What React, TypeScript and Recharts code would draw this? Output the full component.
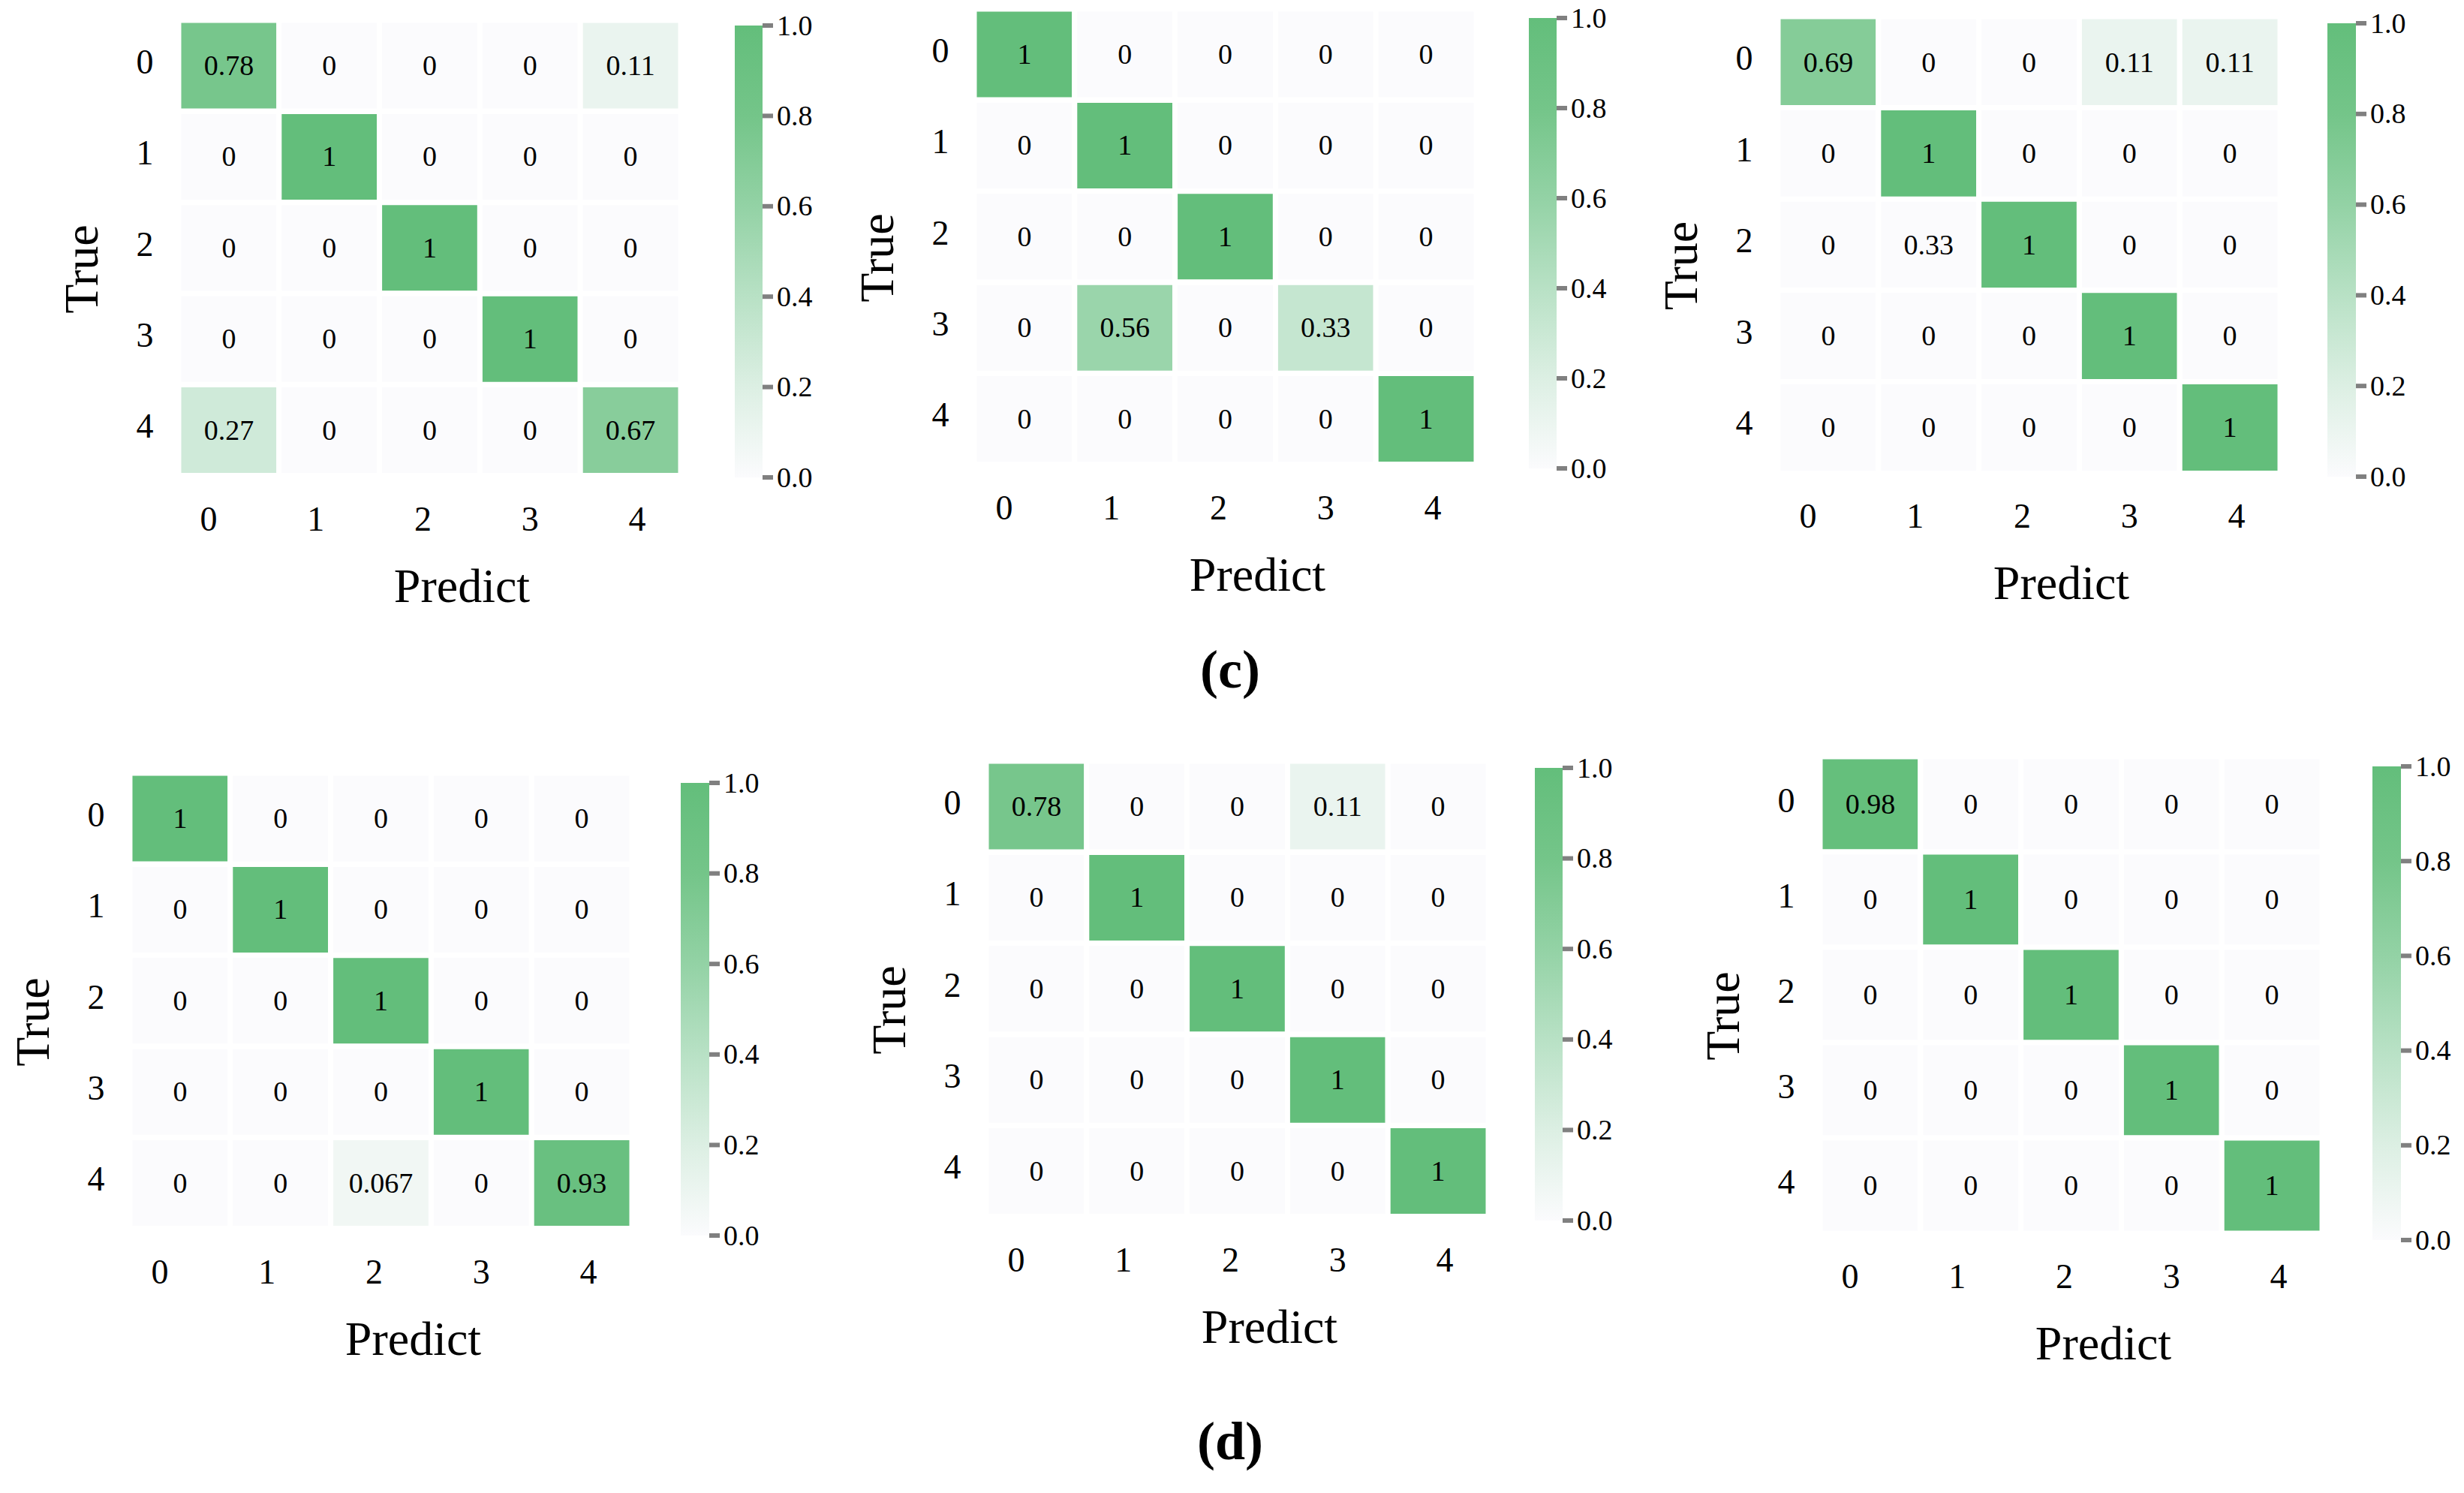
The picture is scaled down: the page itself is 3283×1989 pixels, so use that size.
import React from 'react';
import { BarChart, Bar, XAxis, YAxis, Cell, LabelList } from 'recharts';

const FONT = '"Liberation Serif", "Times New Roman", serif';

// Category labels
const rowLabels = ['0', '1', '2', '3', '4'];
const colLabels = ['0', '1', '2', '3', '4'];
const colorbarTicks = [0, 0.2, 0.4, 0.6, 0.8, 1.0];

// Colormap stops (value, colour)
const cmapValues = [0, 0.2, 0.4, 0.6, 0.8, 1.0];
const cmapColors = ['#FBFBFD', '#DCEFE3', '#B8E1C5', '#93D2A5', '#74C589', '#63BE7B'];

// (c) row
const matrixC1 = [
  [0.78, 0, 0, 0, 0.11],
  [0, 1, 0, 0, 0],
  [0, 0, 1, 0, 0],
  [0, 0, 0, 1, 0],
  [0.27, 0, 0, 0, 0.67],
];
const matrixC2 = [
  [1, 0, 0, 0, 0],
  [0, 1, 0, 0, 0],
  [0, 0, 1, 0, 0],
  [0, 0.56, 0, 0.33, 0],
  [0, 0, 0, 0, 1],
];
const matrixC3 = [
  [0.69, 0, 0, 0.11, 0.11],
  [0, 1, 0, 0, 0],
  [0, 0.33, 1, 0, 0],
  [0, 0, 0, 1, 0],
  [0, 0, 0, 0, 1],
];
// colour intensities of (c)-3 as drawn (the 0.33 cell is drawn blank)
const shadeC3 = [
  [0.69, 0, 0, 0.11, 0.11],
  [0, 1, 0, 0, 0],
  [0, 0, 1, 0, 0],
  [0, 0, 0, 1, 0],
  [0, 0, 0, 0, 1],
];
// (d) row
const matrixD1 = [
  [1, 0, 0, 0, 0],
  [0, 1, 0, 0, 0],
  [0, 0, 1, 0, 0],
  [0, 0, 0, 1, 0],
  [0, 0, 0.067, 0, 0.93],
];
const matrixD2 = [
  [0.78, 0, 0, 0.11, 0],
  [0, 1, 0, 0, 0],
  [0, 0, 1, 0, 0],
  [0, 0, 0, 1, 0],
  [0, 0, 0, 0, 1],
];
const matrixD3 = [
  [0.98, 0, 0, 0, 0],
  [0, 1, 0, 0, 0],
  [0, 0, 1, 0, 0],
  [0, 0, 0, 1, 0],
  [0, 0, 0, 0, 1],
];

const panelLabels = ['(c)', '(d)'];

function hexToRgb(h: string) {
  const n = parseInt(h.slice(1), 16);
  return [(n >> 16) & 255, (n >> 8) & 255, n & 255];
}
function cmap(v: number) {
  const t = Math.max(0, Math.min(1, v));
  for (let i = 0; i < cmapValues.length - 1; i++) {
    if (t <= cmapValues[i + 1]) {
      const f = (t - cmapValues[i]) / (cmapValues[i + 1] - cmapValues[i]);
      const a = hexToRgb(cmapColors[i]);
      const b = hexToRgb(cmapColors[i + 1]);
      const c = a.map((x, k) => Math.round(x + (b[k] - x) * f));
      return `rgb(${c[0]},${c[1]},${c[2]})`;
    }
  }
  return cmapColors[cmapColors.length - 1];
}

type Rect = { x: number; y: number; w: number; h: number };

const layout: { grid: Rect; bar: Rect }[] = [
  { grid: { x: 241, y: 30, w: 662, h: 600 }, bar: { x: 979, y: 34, w: 37, h: 602 } },
  { grid: { x: 1301, y: 15, w: 662, h: 600 }, bar: { x: 2037, y: 24, w: 37, h: 600 } },
  { grid: { x: 2372, y: 25, w: 662, h: 601 }, bar: { x: 3101, y: 31, w: 38, h: 604 } },
  { grid: { x: 176, y: 1033, w: 662, h: 600 }, bar: { x: 907, y: 1043, w: 38, h: 603 } },
  { grid: { x: 1317, y: 1017, w: 662, h: 600 }, bar: { x: 2045, y: 1023, w: 37, h: 603 } },
  { grid: { x: 2428, y: 1011, w: 662, h: 628 }, bar: { x: 3161, y: 1021, w: 38, h: 631 } },
];

const panelData = [
  { matrix: matrixC1, shade: matrixC1 },
  { matrix: matrixC2, shade: matrixC2 },
  { matrix: matrixC3, shade: shadeC3 },
  { matrix: matrixD1, shade: matrixD1 },
  { matrix: matrixD2, shade: matrixD2 },
  { matrix: matrixD3, shade: matrixD3 },
];

const renderAnnot = (p: any) => {
  const vb = p.viewBox && p.viewBox.width != null ? p.viewBox : p;
  const x = Number(vb.x), y = Number(vb.y), w = Number(vb.width), h = Number(vb.height);
  if (!isFinite(x) || !isFinite(y)) return null;
  return (
    <text x={x + w / 2} y={y + h / 2} dy="0.33em" textAnchor="middle" fontSize={38} fontFamily={FONT} fill="#000">
      {String(p.value)}
    </text>
  );
};

const XTick = (p: any) => {
  const j = Math.floor(Number(p.payload.value));
  return (
    <text x={p.x - 27 + 9 * j} y={p.y + 58} dy="0.33em" textAnchor="middle" fontSize={46} fontFamily={FONT} fill="#000">
      {colLabels[j]}
    </text>
  );
};

const YTick = (p: any) => (
  <text x={p.x - 45} y={p.y - 5} dy="0.33em" textAnchor="middle" fontSize={46} fontFamily={FONT} fill="#000">
    {p.payload.value}
  </text>
);

const CbTick = (p: any) => (
  <g>
    <rect x={p.x} y={p.y - 3} width={14} height={6} fill="#808080" />
    <text x={p.x + 19} y={p.y} dy="0.33em" textAnchor="start" fontSize={38} fontFamily={FONT} fill="#000">
      {Number(p.payload.value).toFixed(1)}
    </text>
  </g>
);

const predictLabel = (p: any) => {
  const vb = p && p.viewBox;
  if (!vb) return null;
  return (
    <text x={vb.x + vb.width / 2 + 43} y={vb.y + 168} textAnchor="middle" fontSize={64} fontFamily={FONT} fill="#000">
      Predict
    </text>
  );
};

const trueLabel = (p: any) => {
  const vb = p && p.viewBox;
  if (!vb) return null;
  const cx = vb.x + vb.width - 129.5;
  const cy = vb.y + vb.height / 2 + 28;
  return (
    <text x={cx} y={cy} dy="0.33em" textAnchor="middle" fontSize={64} fontFamily={FONT} fill="#000" transform={`rotate(-90, ${cx}, ${cy})`}>
      True
    </text>
  );
};

function Heatmap({ matrix, shade, grid }: { matrix: number[][]; shade: number[][]; grid: Rect }) {
  const YW = 200, XH = 210, TM = 8, RM = 8, G = 7;
  const gw = grid.w + G, gh = grid.h + G;
  const data = rowLabels.map((r, i) => {
    const o: any = { row: r };
    colLabels.forEach((_, j) => {
      o['c' + j] = 1;
      o['v' + j] = matrix[i][j];
    });
    return o;
  });
  return (
    <div style={{ position: 'absolute', left: grid.x - G / 2 - YW, top: grid.y - G / 2 - TM }}>
      <BarChart
        width={YW + gw + RM}
        height={TM + gh + XH}
        data={data}
        layout="vertical"
        margin={{ top: TM, right: RM, left: 0, bottom: 0 }}
        barCategoryGap={0}
        barGap={0}
      >
        <XAxis
          type="number"
          domain={[0, colLabels.length]}
          ticks={colLabels.map((_, j) => j + 0.5)}
          interval={0}
          height={XH}
          axisLine={false}
          tickLine={false}
          tickSize={0}
          tickMargin={0}
          tick={<XTick />}
          label={predictLabel}
        />
        <YAxis
          type="category"
          dataKey="row"
          width={YW}
          axisLine={false}
          tickLine={false}
          tickSize={0}
          tickMargin={0}
          interval={0}
          tick={<YTick />}
          label={trueLabel}
        />
        {colLabels.map((c, j) => (
          <Bar key={c} dataKey={'c' + j} stackId="s" isAnimationActive={false} stroke="#ffffff" strokeWidth={G}>
            {data.map((_, i) => (
              <Cell key={i} fill={cmap(shade[i][j])} stroke="#ffffff" strokeWidth={G} />
            ))}
            <LabelList dataKey={'v' + j} content={renderAnnot} />
          </Bar>
        ))}
      </BarChart>
    </div>
  );
}

function ColorBar({ bar, id }: { bar: Rect; id: string }) {
  const AW = 110, PAD = 30;
  // gradient stops ordered from top (value 1) to bottom (value 0)
  const stops = cmapValues
    .map((v, i) => ({ offset: (1 - v) * 100, color: cmapColors[i] }))
    .sort((a, b) => a.offset - b.offset);
  const shape = (p: any) => (
    <g>
      <defs>
        <linearGradient id={id} x1="0" y1="0" x2="0" y2="1">
          {stops.map((s, i) => (
            <stop key={i} offset={`${s.offset}%`} stopColor={s.color} />
          ))}
        </linearGradient>
      </defs>
      <rect x={p.x} y={p.y} width={p.width} height={p.height} fill={`url(#${id})`} />
    </g>
  );
  return (
    <div style={{ position: 'absolute', left: bar.x, top: bar.y - PAD }}>
      <BarChart
        width={bar.w + AW}
        height={bar.h + 2 * PAD}
        data={[{ k: 'cb', v: 1 }]}
        margin={{ top: PAD, bottom: PAD, left: 0, right: 0 }}
        barCategoryGap={0}
      >
        <XAxis dataKey="k" hide height={0} />
        <YAxis
          type="number"
          orientation="right"
          width={AW}
          domain={[0, 1]}
          ticks={colorbarTicks}
          interval={0}
          axisLine={false}
          tickLine={false}
          tickSize={0}
          tickMargin={0}
          tick={<CbTick />}
        />
        <Bar dataKey="v" isAnimationActive={false} shape={shape} />
      </BarChart>
    </div>
  );
}

export default function App() {
  return (
    <div style={{ position: 'absolute', left: 0, top: 0, width: 3283, height: 1989, background: '#fff', overflow: 'hidden' }}>
      {panelData.map((p, k) => (
        <React.Fragment key={k}>
          <Heatmap matrix={p.matrix} shade={p.shade} grid={layout[k].grid} />
          <ColorBar bar={layout[k].bar} id={`cbgrad${k}`} />
        </React.Fragment>
      ))}
      <svg width={3283} height={1989} style={{ position: 'absolute', left: 0, top: 0, pointerEvents: 'none' }}>
        <text x={1639} y={916} textAnchor="middle" fontSize={72} fontWeight="bold" fontFamily={FONT} fill="#000">
          {panelLabels[0]}
        </text>
        <text x={1639} y={1944} textAnchor="middle" fontSize={72} fontWeight="bold" fontFamily={FONT} fill="#000">
          {panelLabels[1]}
        </text>
      </svg>
    </div>
  );
}
